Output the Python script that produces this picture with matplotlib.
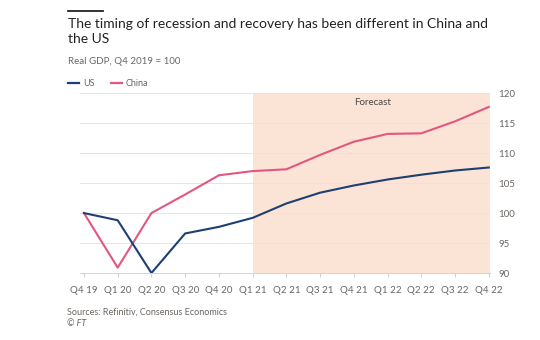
import matplotlib
matplotlib.use("Agg")
import matplotlib.pyplot as plt
import numpy as np

plt.rcParams['font.family'] = ['Lato', 'DejaVu Sans']

quarters = ["Q4 19", "Q1 20", "Q2 20", "Q3 20", "Q4 20", "Q1 21", "Q2 21",
            "Q3 21", "Q4 21", "Q1 22", "Q2 22", "Q3 22", "Q4 22"]
us = [100, 98.8, 90.0, 96.6, 97.7, 99.2, 101.6, 103.4, 104.6, 105.6, 106.4, 107.1, 107.6]
china = [100, 90.9, 100.0, 103.1, 106.3, 107.0, 107.3, 109.7, 111.9, 113.2, 113.3, 115.3, 117.7]
forecast_start = 5  # Q1 21

us_col = "#1d3f72"
cn_col = "#e2577f"
grey = "#6b6662"

fig = plt.figure(figsize=(5.4, 3.4), dpi=100)
ax = fig.add_axes([0.148, 0.197, 0.759, 0.529])

x = np.arange(len(quarters))
ax.axvspan(forecast_start, 12.03, color="#fbe3d6", zorder=0, lw=0)
ax.plot(x, china, color=cn_col, lw=1.5, zorder=3)
ax.plot(x, us, color=us_col, lw=1.5, zorder=3)

ax.set_xlim(-0.12, 12.03)
ax.set_ylim(90, 120)
ax.set_yticks(range(90, 121, 5))
ax.yaxis.tick_right()
ax.grid(axis="y", color="#e8e4e0", lw=0.7, zorder=1)
ax.set_xticks(x)
ax.set_xticklabels(quarters)
ax.tick_params(axis="x", length=3, color="#d6d2ce", labelsize=7, labelcolor=grey, pad=6)
ax.tick_params(axis="y", length=0, labelsize=7, labelcolor=grey, pad=6)
for s in ax.spines.values():
    s.set_visible(False)
ax.spines["bottom"].set_visible(True)
ax.spines["bottom"].set_color("#d6d2ce")
ax.spines["bottom"].set_linewidth(0.7)

ax.text((forecast_start + 12) / 2 + 0.05, 119.2, "Forecast", ha="center", va="top",
        fontsize=7, color="#4a4644")

# header
fig.add_artist(plt.Line2D([68 / 540, 103 / 540], [1 - 11 / 340] * 2, color="#222", lw=1.3))
fig.text(68 / 540, 1 - 18 / 340, "The timing of recession and recovery has been different in China and\nthe US",
         fontsize=10, color="#222", va="top", linespacing=1.3)
fig.text(68 / 540, 1 - 62 / 340, "Real GDP, Q4 2019 = 100", fontsize=7, color=grey, va="center")

fig.add_artist(plt.Line2D([68 / 540, 79 / 540], [1 - 83 / 340] * 2, color=us_col, lw=1.6))
fig.text(83 / 540, 1 - 83 / 340, "US", fontsize=6.5, color=grey, va="center")
fig.add_artist(plt.Line2D([111 / 540, 122 / 540], [1 - 83 / 340] * 2, color=cn_col, lw=1.6))
fig.text(126 / 540, 1 - 83 / 340, "China", fontsize=6.5, color=grey, va="center")

fig.text(67 / 540, 1 - 312 / 340, "Sources: Refinitiv, Consensus Economics", fontsize=6.5, color=grey, va="center")
fig.text(67 / 540, 1 - 323 / 340, "\u00a9 FT", fontsize=6.5, color=grey, va="center", style="italic")

fig.savefig("out.png", dpi=100, facecolor="white")
